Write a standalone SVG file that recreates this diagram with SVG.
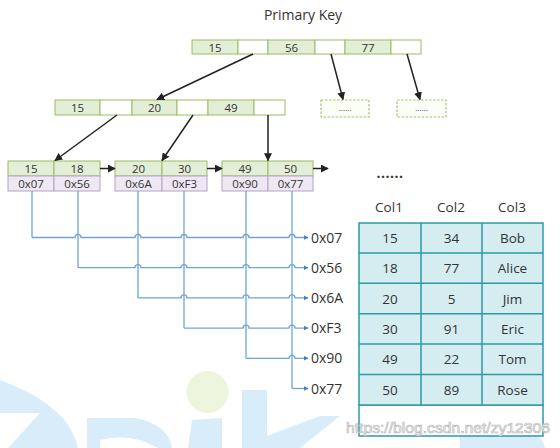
<svg xmlns="http://www.w3.org/2000/svg" width="560" height="448" viewBox="0 0 560 448">
<style>
text{font-family:"Open Sans","Noto Sans","Liberation Sans",sans-serif;fill:#333;}
.k{font-size:11.5px;text-anchor:middle;}
.g{fill:#e2eed5;stroke:#9dbb63;stroke-width:1;}
.w{fill:#ffffff;stroke:#9dbb63;stroke-width:1;}
.p{fill:#efe8f3;stroke:#b5a2c8;stroke-width:1;}
.blk{stroke:#222;stroke-width:1.5;fill:none;marker-end:url(#ah);}
.blue{stroke:#6ea6d6;stroke-width:1.3;fill:none;}
.blue-a{stroke:#6ea6d6;stroke-width:1.3;fill:none;marker-end:url(#bh);}
.lbl{font-size:14px;}
.tc{fill:#d5edf1;stroke:#2b9ba2;stroke-width:1.5;}
.tt{font-size:13.5px;text-anchor:middle;}
.dash{fill:#fbfdf7;stroke:#a7c26e;stroke-width:1.2;stroke-dasharray:2.5 1.5;}
.wm{fill:#a9d8f2;opacity:0.45;}
</style>
<defs>
<marker id="ah" viewBox="0 0 10 10" refX="9" refY="5" markerWidth="8" markerHeight="8" markerUnits="userSpaceOnUse" orient="auto"><path d="M0,0 L10,5 L0,10 z" fill="#222"/></marker>
<marker id="bh" viewBox="0 0 10 10" refX="9" refY="5" markerWidth="5" markerHeight="5" markerUnits="userSpaceOnUse" orient="auto"><path d="M0,0 L10,5 L0,10 z" fill="#3d7fc0"/></marker>
</defs>
<rect width="560" height="448" fill="#ffffff"/>

<g id="background-logo">
<circle cx="207.5" cy="392" r="21" fill="#edf5dc"/>
<path class="wm" d="M0,380 C30,392 70,410 78,448 L8,448 L40,413 L0,413 Z"/>
<path class="wm" fill-rule="evenodd" d="M87,448 L87,418 L135,418 Q168,424 172,448 Z M100,448 L100,440 Q130,432 158,448 Z"/>
<path class="wm" d="M192,420 L222,418 L222,448 L188,448 Z"/>
<rect class="wm" x="242" y="390" width="25" height="58"/>
<path class="wm" d="M267,436 L320,416 L340,416 L300,448 L267,448 Z"/>
<rect class="wm" x="460" y="388" width="32" height="60"/>
<path class="wm" d="M492,426 Q538,420 545,448 L492,448 Z"/>
</g>

<text x="303" y="20" font-size="14" text-anchor="middle">Primary Key</text>

<g id="root">
<rect class="g" x="192" y="40" width="46" height="14"/>
<rect class="w" x="238" y="40" width="30" height="14"/>
<rect class="g" x="268" y="40" width="47" height="14"/>
<rect class="w" x="315" y="40" width="30" height="14"/>
<rect class="g" x="345" y="40" width="46" height="14"/>
<rect class="w" x="391" y="40" width="30" height="14"/>
<text class="k" x="215" y="51.5">15</text>
<text class="k" x="291.5" y="51.5">56</text>
<text class="k" x="368" y="51.5">77</text>
</g>

<g id="inner">
<rect class="g" x="55" y="100" width="45" height="15"/>
<rect class="w" x="100" y="100" width="32" height="15"/>
<rect class="g" x="132" y="100" width="45" height="15"/>
<rect class="w" x="177" y="100" width="31" height="15"/>
<rect class="g" x="208" y="100" width="46" height="15"/>
<rect class="w" x="254" y="100" width="31" height="15"/>
<text class="k" x="77.5" y="112">15</text>
<text class="k" x="154.5" y="112">20</text>
<text class="k" x="231" y="112">49</text>
</g>

<g id="dots1">
<rect class="dash" x="321" y="100" width="48" height="17"/>
<text x="345" y="111" font-size="8" text-anchor="middle" fill="#777">......</text>
</g>
<g id="dots2">
<rect class="dash" x="397" y="100" width="49" height="17"/>
<text x="421.5" y="111" font-size="8" text-anchor="middle" fill="#777">......</text>
</g>

<g id="leaf1">
<rect class="g" x="8" y="161" width="46" height="15"/>
<rect class="g" x="54" y="161" width="46" height="15"/>
<rect class="p" x="8" y="176" width="46" height="15"/>
<rect class="p" x="54" y="176" width="46" height="15"/>
<text class="k" x="31" y="173">15</text>
<text class="k" x="77" y="173">18</text>
<text class="k" x="31" y="188">0x07</text>
<text class="k" x="77" y="188">0x56</text>
</g>
<g id="leaf2">
<rect class="g" x="115" y="161" width="47" height="15"/>
<rect class="g" x="162" y="161" width="45" height="15"/>
<rect class="p" x="115" y="176" width="47" height="15"/>
<rect class="p" x="162" y="176" width="45" height="15"/>
<text class="k" x="138.5" y="173">20</text>
<text class="k" x="184.5" y="173">30</text>
<text class="k" x="138.5" y="188">0x6A</text>
<text class="k" x="184.5" y="188">0xF3</text>
</g>
<g id="leaf3">
<rect class="g" x="222" y="161" width="46" height="15"/>
<rect class="g" x="268" y="161" width="45" height="15"/>
<rect class="p" x="222" y="176" width="46" height="15"/>
<rect class="p" x="268" y="176" width="45" height="15"/>
<text class="k" x="245" y="173">49</text>
<text class="k" x="290.5" y="173">50</text>
<text class="k" x="245" y="188">0x90</text>
<text class="k" x="290.5" y="188">0x77</text>
</g>

<g id="more">
<text x="390" y="178" font-size="14" font-weight="bold" text-anchor="middle" fill="#333" letter-spacing="0.5">......</text>
</g>

<g id="connectors">
<path class="blk" d="M253,54 L157,99.5"/>
<path class="blk" d="M331,54 L343,99.5"/>
<path class="blk" d="M407,54 L420,99.5"/>
<path class="blk" d="M117,115 L55,160.5"/>
<path class="blk" d="M193,115 L162,160.5"/>
<path class="blk" d="M268,115 L268,160.5"/>
<path class="blk" d="M100,168.5 L115,168.5"/>
<path class="blk" d="M207,168.5 L222,168.5"/>
<path class="blk" d="M313,168.5 L328,168.5"/>

<path class="blue" d="M32,191 L32,237.5"/>
<path class="blue" d="M78,191 L78,267.7"/>
<path class="blue" d="M138,191 L138,297.9"/>
<path class="blue" d="M184,191 L184,328.1"/>
<path class="blue" d="M246,191 L246,358.3"/>
<path class="blue" d="M292,191 L292,388.5"/>

<path class="blue-a" d="M32,237.5 L75,237.5 A3,3 0 0 1 81,237.5 L135,237.5 A3,3 0 0 1 141,237.5 L181,237.5 A3,3 0 0 1 187,237.5 L243,237.5 A3,3 0 0 1 249,237.5 L289,237.5 A3,3 0 0 1 295,237.5 L308,237.5"/>
<path class="blue-a" d="M78,267.7 L135,267.7 A3,3 0 0 1 141,267.7 L181,267.7 A3,3 0 0 1 187,267.7 L243,267.7 A3,3 0 0 1 249,267.7 L289,267.7 A3,3 0 0 1 295,267.7 L308,267.7"/>
<path class="blue-a" d="M138,297.9 L181,297.9 A3,3 0 0 1 187,297.9 L243,297.9 A3,3 0 0 1 249,297.9 L289,297.9 A3,3 0 0 1 295,297.9 L308,297.9"/>
<path class="blue-a" d="M184,328.1 L243,328.1 A3,3 0 0 1 249,328.1 L289,328.1 A3,3 0 0 1 295,328.1 L308,328.1"/>
<path class="blue-a" d="M246,358.3 L289,358.3 A3,3 0 0 1 295,358.3 L308,358.3"/>
<path class="blue-a" d="M292,388.5 L308,388.5"/>
</g>

<g id="addresses">
<text class="lbl" x="311" y="242.5">0x07</text>
<text class="lbl" x="311" y="272.7">0x56</text>
<text class="lbl" x="311" y="302.9">0x6A</text>
<text class="lbl" x="311" y="333.1">0xF3</text>
<text class="lbl" x="311" y="363.3">0x90</text>
<text class="lbl" x="311" y="393.5">0x77</text>
</g>

<g id="table">
<text class="tt" x="389" y="212">Col1</text>
<text class="tt" x="451" y="212">Col2</text>
<text class="tt" x="512" y="212">Col3</text>
<rect x="359" y="405" width="184" height="31" fill="#ffffff" stroke="#2b9ba2" stroke-width="1.5"/>
<rect class="tc" x="359" y="223" width="184" height="182"/>
<path d="M421,223 V405 M482,223 V405 M359,253 H543 M359,283.3 H543 M359,313.7 H543 M359,344 H543 M359,374.5 H543" stroke="#2b9ba2" stroke-width="1.5" fill="none"/>
<text class="tt" x="390" y="243">15</text><text class="tt" x="451.5" y="243">34</text><text class="tt" x="512.5" y="243">Bob</text>
<text class="tt" x="390" y="273.2">18</text><text class="tt" x="451.5" y="273.2">77</text><text class="tt" x="512.5" y="273.2">Alice</text>
<text class="tt" x="390" y="303.5">20</text><text class="tt" x="451.5" y="303.5">5</text><text class="tt" x="512.5" y="303.5">Jim</text>
<text class="tt" x="390" y="333.8">30</text><text class="tt" x="451.5" y="333.8">91</text><text class="tt" x="512.5" y="333.8">Eric</text>
<text class="tt" x="390" y="364.2">49</text><text class="tt" x="451.5" y="364.2">22</text><text class="tt" x="512.5" y="364.2">Tom</text>
<text class="tt" x="390" y="394.5">50</text><text class="tt" x="451.5" y="394.5">89</text><text class="tt" x="512.5" y="394.5">Rose</text>
</g>

<text x="346" y="433" font-size="15" textLength="204" lengthAdjust="spacingAndGlyphs" style="fill:#ffffff;font-family:'Liberation Sans',sans-serif" stroke="#b8b8b8" stroke-width="0.7">https://blog.csdn.net/zy12306</text>
</svg>
